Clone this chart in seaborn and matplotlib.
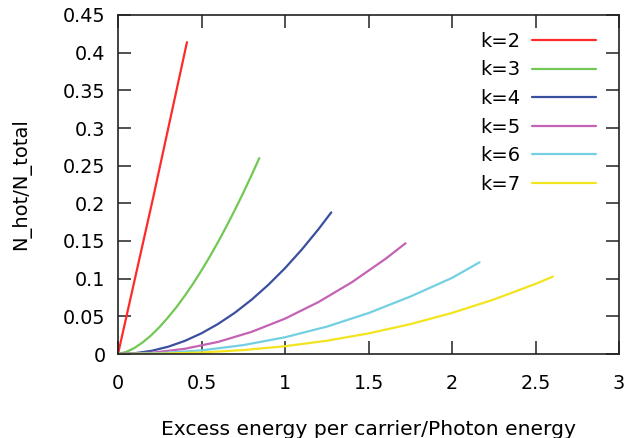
import matplotlib
matplotlib.use("Agg")
import matplotlib.pyplot as plt
import seaborn as sns
import pandas as pd

# ---- data ----
k_labels = ["k=2", "k=3", "k=4", "k=5", "k=6", "k=7"]
x_k2 = [0.0, 0.21, 0.413]
y_k2 = [0.0, 0.207, 0.414]
x_k3 = [0.0, 0.05, 0.1, 0.15, 0.2, 0.25, 0.3, 0.35, 0.4, 0.45, 0.5, 0.55, 0.6, 0.65, 0.7, 0.75, 0.8, 0.846]
y_k3 = [0.0, 0.0027, 0.0082, 0.0158, 0.0251, 0.0361, 0.0487, 0.0622, 0.0773, 0.0935,
        0.1109, 0.1294, 0.149, 0.1697, 0.1913, 0.2139, 0.2375, 0.260]
x_k4 = [0.0, 0.1, 0.2, 0.3, 0.4, 0.5, 0.6, 0.7, 0.8, 0.9, 1.0, 1.1, 1.2, 1.277]
y_k4 = [0.0, 0.001, 0.0042, 0.0096, 0.0174, 0.0275, 0.040, 0.0548, 0.0721, 0.0918,
        0.1139, 0.1385, 0.1655, 0.188]
x_k5 = [0.0, 0.2, 0.4, 0.6, 0.8, 1.0, 1.2, 1.4, 1.6, 1.722]
y_k5 = [0.0, 0.0016, 0.0069, 0.0161, 0.0294, 0.0469, 0.0689, 0.0952, 0.126, 0.147]
x_k6 = [0.0, 0.25, 0.5, 0.75, 1.0, 1.25, 1.5, 1.75, 2.0, 2.165]
y_k6 = [0.0, 0.0011, 0.0048, 0.0118, 0.0222, 0.0363, 0.0543, 0.0762, 0.101, 0.1217]
x_k7 = [0.0, 0.25, 0.5, 0.75, 1.0, 1.25, 1.5, 1.75, 2.0, 2.25, 2.5, 2.604]
y_k7 = [0.0, 0.0004, 0.002, 0.0052, 0.0103, 0.0176, 0.0273, 0.0396, 0.0545, 0.0723, 0.0931, 0.1027]
x_ticks = [0, 0.5, 1, 1.5, 2, 2.5, 3]
x_tick_labels = ["0", "0.5", "1", "1.5", "2", "2.5", "3"]
y_ticks = [0, 0.05, 0.1, 0.15, 0.2, 0.25, 0.3, 0.35, 0.4, 0.45]
y_tick_labels = ["0", "0.05", "0.1", "0.15", "0.2", "0.25", "0.3", "0.35", "0.4", "0.45"]
x_label = "Excess energy per carrier/Photon energy"
y_label = "N_hot/N_total"
colors = ["#ff2a2a", "#72c854", "#3a4f9e", "#c462b4", "#72d0e2", "#f2e41e"]

xs = [x_k2, x_k3, x_k4, x_k5, x_k6, x_k7]
ys = [y_k2, y_k3, y_k4, y_k5, y_k6, y_k7]
rows = []
for lab, xv, yv in zip(k_labels, xs, ys):
    for a, b in zip(xv, yv):
        rows.append({"x": a, "y": b, "k": lab})
df = pd.DataFrame(rows)

sns.set_theme(style="white")
plt.rcParams["font.family"] = ["DejaVu Sans"]

fig = plt.figure(figsize=(6.28, 4.38), dpi=100)
ax = fig.add_axes([118 / 628, 1 - 354 / 438, 501 / 628, 339 / 438])

sns.lineplot(data=df, x="x", y="y", hue="k", hue_order=k_labels,
             palette=dict(zip(k_labels, colors)), sort=False,
             linewidth=1.6, ax=ax, legend=False)

ax.set_xlim(0, 3)
ax.set_ylim(0, 0.45)
ax.set_xticks(x_ticks)
ax.set_xticklabels(x_tick_labels)
ax.set_yticks(y_ticks)
ax.set_yticklabels(y_tick_labels)
ax.tick_params(axis="both", which="major", direction="in", length=9.5, width=1.1,
               color="#222222", labelsize=13.8, labelcolor="#000000",
               top=True, right=True, bottom=True, left=True)
ax.tick_params(axis="x", pad=14.5)
ax.tick_params(axis="y", pad=9)
for s in ax.spines.values():
    s.set_color("#222222")
    s.set_linewidth(1.2)
ax.set_xlabel(x_label, fontsize=14.6, color="#000000", labelpad=19)
ax.set_ylabel(y_label, fontsize=14.0, color="#000000", labelpad=23)

handles = [plt.Line2D([], [], color=c, linewidth=1.6) for c in colors]
ax.legend(handles, k_labels, loc="upper right", bbox_to_anchor=(0.955, 0.95),
          frameon=False, markerfirst=False, fontsize=14.0, handlelength=3.3,
          labelspacing=0.49, borderaxespad=0, borderpad=0, handletextpad=0.6,
          labelcolor="#000000")

fig.savefig("out.png", dpi=100)
